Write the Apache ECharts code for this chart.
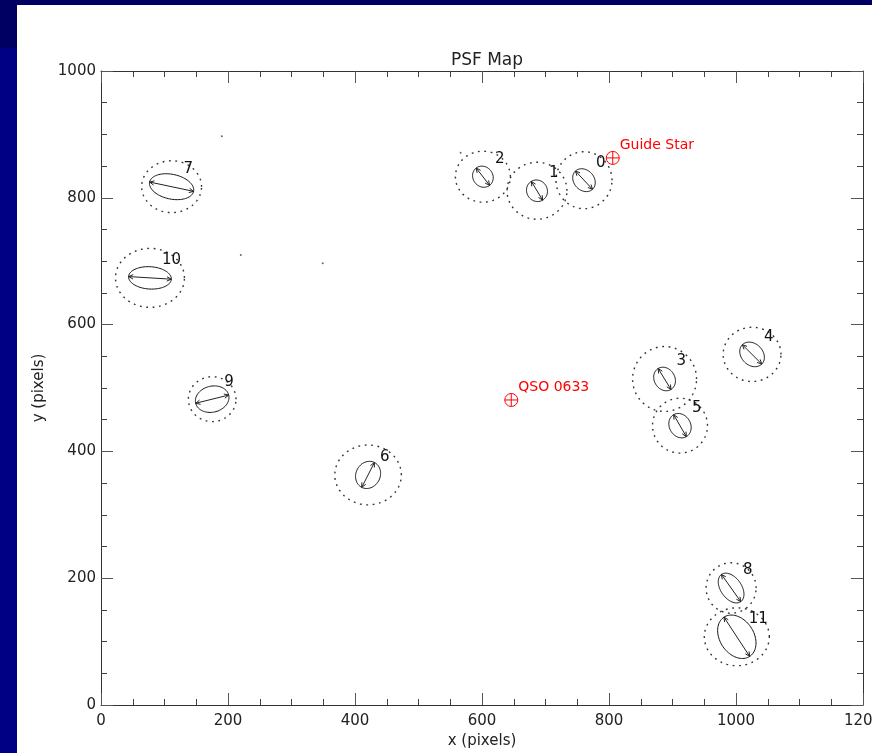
<!DOCTYPE html>
<html><head><meta charset="utf-8">
<script src="https://cdn.jsdelivr.net/npm/echarts@6/dist/echarts.min.js"></script>
<style>
html,body{margin:0;padding:0;background:#fff;}
#bgTop{position:absolute;left:0;top:0;width:872px;height:5px;background:#000063;}
#bgL1{position:absolute;left:0;top:0;width:17px;height:48px;background:#000063;}
#bgL2{position:absolute;left:0;top:48px;width:17px;height:705px;background:#000084;}
#chart{position:absolute;left:0;top:0;width:872px;height:753px;}
</style></head>
<body>
<div id="bgTop"></div><div id="bgL1"></div><div id="bgL2"></div>
<div id="chart"></div>
<script>
// ---- data ----
const starIds = ['0','1','2','3','4','5','6','7','8','9','10','11'];
const starX   = [760.6, 686.6, 601.4, 887.5, 1025.3, 911.8, 420.6, 111.2, 992.3, 175.1, 77.1, 1001.3];
const starY   = [827.8, 811.1, 833.3, 514.2, 553.0, 440.6, 362.9, 817.5, 184.5, 482.4, 673.7, 107.6];
// dotted outer ellipse semi-axes (data units)
const dotRx   = [44.1, 47.2, 43.3, 50.4, 45.5, 43.3, 52.4, 47.2, 39.4, 37.5, 54.3, 51.2];
const dotRy   = [44.9, 44.9, 40.2, 51.2, 42.8, 43.3, 47.2, 40.9, 39.8, 35.4, 46.5, 45.7];
// PSF ellipse: semi-major, semi-minor (data units), position angle (deg)
const psfA    = [19.7, 17.3, 17.3, 19.4, 21.6, 20.0, 22.0, 35.4, 26.3, 26.8, 33.7, 37.0];
const psfB    = [15.9, 16.2, 15.6, 16.2, 16.9, 16.7, 19.1, 19.5, 16.4, 20.5, 17.6, 26.8];
const psfAng  = [-47, -59, -52, -58.6, -45, -60, 63, -12, -54.7, 14, -3.5, -56.8];
// marked objects
const objNames = ['Guide Star', 'QSO 0633'];
const objX     = [805.9, 646.1];
const objY     = [862.9, 481.1];
// faint stray points
const dotX = [190.3, 220.2, 349.2, 566.3];
const dotY = [897.0, 709.6, 696.7, 871.0];
// axes
const xMin = 0, xMax = 1200, yMin = 0, yMax = 1000, majorStep = 200;

const FONT = '"DejaVu Sans", sans-serif';
const chart = echarts.init(document.getElementById('chart'));

function axisCommon(extra){
  return Object.assign({
    type:'value', interval: majorStep, splitLine:{show:false},
    axisLine:{show:true, onZero:false, lineStyle:{color:'#333', width:1}},
    axisTick:{show:true, inside:true, length:12, lineStyle:{color:'#555', width:1}},
    minorTick:{show:true, splitNumber:4, length:6, lineStyle:{color:'#444', width:1}},
    minorSplitLine:{show:false}
  }, extra);
}
const plainFmt = v => String(v);

function starRender(params, api){
  const i = api.value(2);
  const cx = starX[i], cy = starY[i];
  const c = api.coord([cx, cy]);
  const children = [];
  const N = 90;
  const dp = [];
  for (let k = 0; k <= N; k++){
    const t = k / N * 2 * Math.PI;
    dp.push(api.coord([cx + dotRx[i]*Math.cos(t), cy + dotRy[i]*Math.sin(t)]));
  }
  children.push({type:'polyline', shape:{points:dp}, style:{stroke:'#333', lineWidth:1.4, lineDash:[1.8,4.6], fill:'none'}});
  const th = psfAng[i]*Math.PI/180, ct = Math.cos(th), st = Math.sin(th);
  const a = psfA[i], b = psfB[i];
  const ep = [];
  for (let k = 0; k <= N; k++){
    const t = k / N * 2 * Math.PI;
    const ex = a*Math.cos(t), ey = b*Math.sin(t);
    ep.push(api.coord([cx + ex*ct - ey*st, cy + ex*st + ey*ct]));
  }
  children.push({type:'polyline', shape:{points:ep}, style:{stroke:'#111', lineWidth:1, fill:'none'}});
  const p1 = api.coord([cx - a*ct, cy - a*st]);
  const p2 = api.coord([cx + a*ct, cy + a*st]);
  children.push({type:'line', shape:{x1:p1[0], y1:p1[1], x2:p2[0], y2:p2[1]}, style:{stroke:'#222', lineWidth:1}});
  function head(tip, from){
    const dx = from[0]-tip[0], dy = from[1]-tip[1];
    const L = Math.hypot(dx, dy) || 1;
    const ux = dx/L, uy = dy/L, h = 5, ang = 0.45;
    const ca = Math.cos(ang), sa = Math.sin(ang);
    const q1 = [tip[0] + h*(ux*ca - uy*sa), tip[1] + h*(ux*sa + uy*ca)];
    const q2 = [tip[0] + h*(ux*ca + uy*sa), tip[1] + h*(-ux*sa + uy*ca)];
    children.push({type:'polyline', shape:{points:[q1, tip, q2]}, style:{stroke:'#222', lineWidth:1, fill:'none'}});
  }
  head(p1, p2); head(p2, p1);
  children.push({type:'text', x:c[0]+12, y:c[1]-17.5,
    style:{text:starIds[i], fill:'#111', font:'15px ' + FONT, align:'left', verticalAlign:'middle', textAlign:'left', textVerticalAlign:'middle'}});
  return {type:'group', children};
}

function objRender(params, api){
  const i = api.value(2);
  const c = api.coord([objX[i], objY[i]]);
  const r = 6.5;
  return {type:'group', children:[
    {type:'circle', shape:{cx:c[0], cy:c[1], r:r}, style:{stroke:'#ff0000', lineWidth:1, fill:'none'}},
    {type:'line', shape:{x1:c[0]-r, y1:c[1], x2:c[0]+r, y2:c[1]}, style:{stroke:'#ff0000', lineWidth:1}},
    {type:'line', shape:{x1:c[0], y1:c[1]-r, x2:c[0], y2:c[1]+r}, style:{stroke:'#ff0000', lineWidth:1}},
    {type:'text', x:c[0]+7, y:c[1]-13, style:{text:objNames[i], fill:'#ff0000', font:'14px ' + FONT, align:'left', verticalAlign:'middle', textAlign:'left', textVerticalAlign:'middle'}}
  ]};
}

chart.setOption({
  animation:false,
  backgroundColor:'transparent',
  title:{text:'PSF Map', left:482, top:47, textAlign:'center',
    textStyle:{fontFamily:FONT, fontSize:17, fontWeight:'normal', color:'#222'}},
  grid:{left:101, right:9, top:71, bottom:48, containLabel:false, outerBoundsMode:'none'},
  xAxis:[
    axisCommon({min:xMin, max:xMax, position:'bottom', name:'x (pixels)', nameLocation:'middle', nameGap:28,
      nameTextStyle:{fontFamily:FONT, fontSize:15, color:'#222'},
      axisLabel:{show:true, margin:9, color:'#222', fontFamily:FONT, fontSize:15, formatter:plainFmt, hideOverlap:false}}),
    axisCommon({min:xMin, max:xMax, position:'top', axisLabel:{show:false}})
  ],
  yAxis:[
    axisCommon({min:yMin, max:yMax, position:'left', name:'y (pixels)', nameLocation:'middle', nameGap:51,
      nameTextStyle:{fontFamily:FONT, fontSize:15, color:'#222'},
      axisLabel:{show:true, margin:5, color:'#222', fontFamily:FONT, fontSize:15, formatter:plainFmt}}),
    axisCommon({min:yMin, max:yMax, position:'right', axisLabel:{show:false}})
  ],
  series:[
    {type:'custom', renderItem:starRender, data: starX.map((x,i)=>[x, starY[i], i]), clip:false, silent:true},
    {type:'custom', renderItem:objRender, data: objX.map((x,i)=>[x, objY[i], i]), clip:false, silent:true},
    {type:'scatter', data: dotX.map((x,i)=>[x, dotY[i]]), symbolSize:2, itemStyle:{color:'#444'}, silent:true}
  ]
});
</script>
</body></html>
